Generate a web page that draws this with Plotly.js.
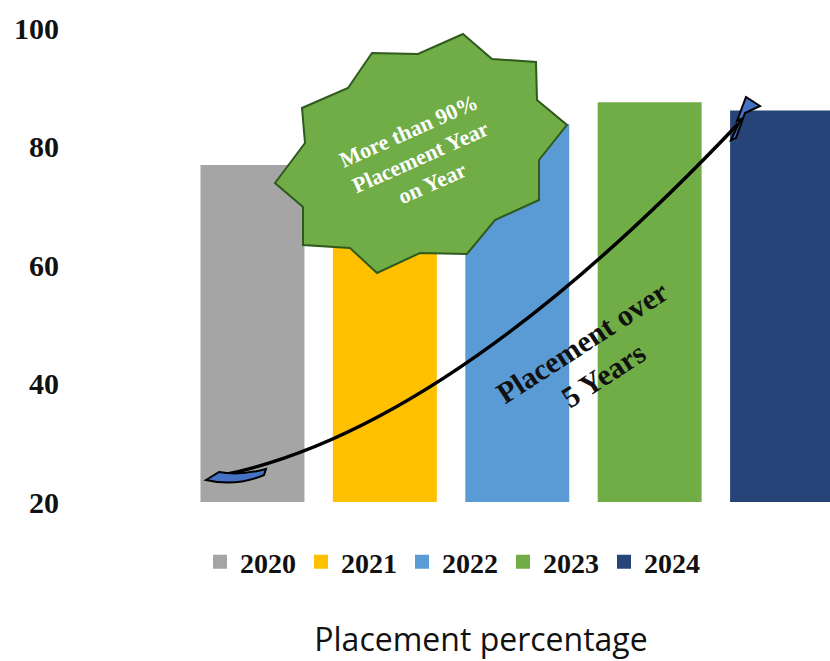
<!DOCTYPE html>
<html><head><meta charset="utf-8">
<script src="https://cdn.plot.ly/plotly-3.0.1.min.js"></script>
<style>html,body{margin:0;padding:0;background:#fff;} #chart{width:830px;height:661px;}</style>
</head><body><div id="chart"></div>
<script>
// ---- data ----
const years = ['2020', '2021', '2022', '2023', '2024'];
const placement = [76.7, 80.0, 83.6, 87.3, 85.9];
const barColors = ['#A5A5A5', '#FFC000', '#5B9BD5', '#70AD47', '#264478'];
const yTicks = [20, 40, 60, 80, 100];
const burstText = 'More than 90%<br>Placement Year<br>on Year';
const arrowText = 'Placement over<br>5 Years';
const chartTitle = 'Placement percentage';

// ---- geometry helpers (pixel -> paper) ----
const W = 830, H = 661, L = 70, R = 0, T = 28, B = 159;
const pw = W - L - R, ph = H - T - B;
const px = x => (x - L) / pw;
const py = y => (H - B - y) / ph;
function conv(cmds) {
  return cmds.map(c => {
    const k = c[0]; const a = c.slice(1);
    if (k === 'Z') return 'Z';
    const out = [];
    for (let i = 0; i < a.length; i += 2) out.push(px(a[i]).toFixed(5) + ',' + py(a[i + 1]).toFixed(5));
    return k + out.join(' ');
  }).join(' ');
}

const burstPts = [[463,34],[492,59],[536,62],[537,100],[567,125],[539,160],[539,200],[495,220],[467,254],[420,253],[377,273],[350,248],[303,245],[303,207],[275,183],[305,143],[302,108],[348,88],[372,53],[418,54]];
const burstPath = conv(burstPts.map((p, i) => [i ? 'L' : 'M', p[0], p[1]]).concat([['Z']]));

const curvePath = conv([['M', 218, 476], ['Q', 446, 432, 738, 124]]);
const tailPath = conv([['M', 206, 480], ['L', 219, 472], ['Q', 240, 476, 266, 469], ['L', 264, 475], ['Q', 236, 487, 206, 480], ['Z']]);
const headPath = conv([['M', 731, 140], ['L', 741, 119], ['L', 737, 121], ['L', 746, 97], ['L', 760, 106], ['L', 745, 113], ['L', 736, 138], ['Z']]);

const traces = years.map((yr, i) => ({
  type: 'bar', x: [yr], y: [placement[i]], name: yr,
  width: 0.77,
  marker: {color: barColors[i], line: {color: barColors[i], width: 2}},
  hoverinfo: 'skip'
}));

const layout = {
  width: W, height: H,
  margin: {l: L, r: R, t: T, b: B},
  paper_bgcolor: '#fff', plot_bgcolor: '#fff',
  barmode: 'overlay',
  showlegend: true,
  xaxis: {type: 'category', range: [-1.378, 4.362], showticklabels: false, showgrid: false, zeroline: false, showline: false, ticks: ''},
  yaxis: {range: [20, 100], tickvals: yTicks, showgrid: false, zeroline: false, showline: false, ticks: '',
    ticklabelstandoff: 10,
    tickfont: {family: 'Liberation Serif', size: 30, weight: 'bold', color: '#111'}},
  legend: {orientation: 'h', xref: 'container', yref: 'container', x: 200 / W, xanchor: 'left', y: 1 - 562 / H, yanchor: 'middle',
    itemwidth: 30, bgcolor: 'rgba(0,0,0,0)',
    font: {family: 'Liberation Serif', size: 28, weight: 'bold', color: '#111'}},
  title: {text: chartTitle, xref: 'container', yref: 'container', x: 481 / W, xanchor: 'center', y: 1 - 640 / H, yanchor: 'middle',
    font: {family: 'Open Sans', size: 32, color: '#111'}},
  shapes: [
    {type: 'path', xref: 'paper', yref: 'paper', path: burstPath, fillcolor: '#70AD47', line: {color: '#2F5A1E', width: 2}, layer: 'above'},
    {type: 'path', xref: 'paper', yref: 'paper', path: curvePath, line: {color: '#000', width: 3.5}, layer: 'above'},
    {type: 'path', xref: 'paper', yref: 'paper', path: tailPath, fillcolor: '#4472C4', line: {color: '#000', width: 2}, layer: 'above'},
    {type: 'path', xref: 'paper', yref: 'paper', path: headPath, fillcolor: '#4472C4', line: {color: '#000', width: 2}, layer: 'above'}
  ],
  annotations: [
    {xref: 'paper', yref: 'paper', x: px(420), y: py(157), xanchor: 'center', yanchor: 'middle', text: burstText, showarrow: false, textangle: -24,
      font: {family: 'Liberation Serif', size: 22, weight: 'bold', color: '#fff'}},
    {xref: 'paper', yref: 'paper', x: px(592), y: py(359), xanchor: 'center', yanchor: 'middle', text: arrowText, showarrow: false, textangle: -33,
      font: {family: 'Liberation Serif', size: 30, weight: 'bold', color: '#111'}}
  ]
};

Plotly.newPlot('chart', traces, layout, {staticPlot: true, displayModeBar: false});
</script>
</body></html>
